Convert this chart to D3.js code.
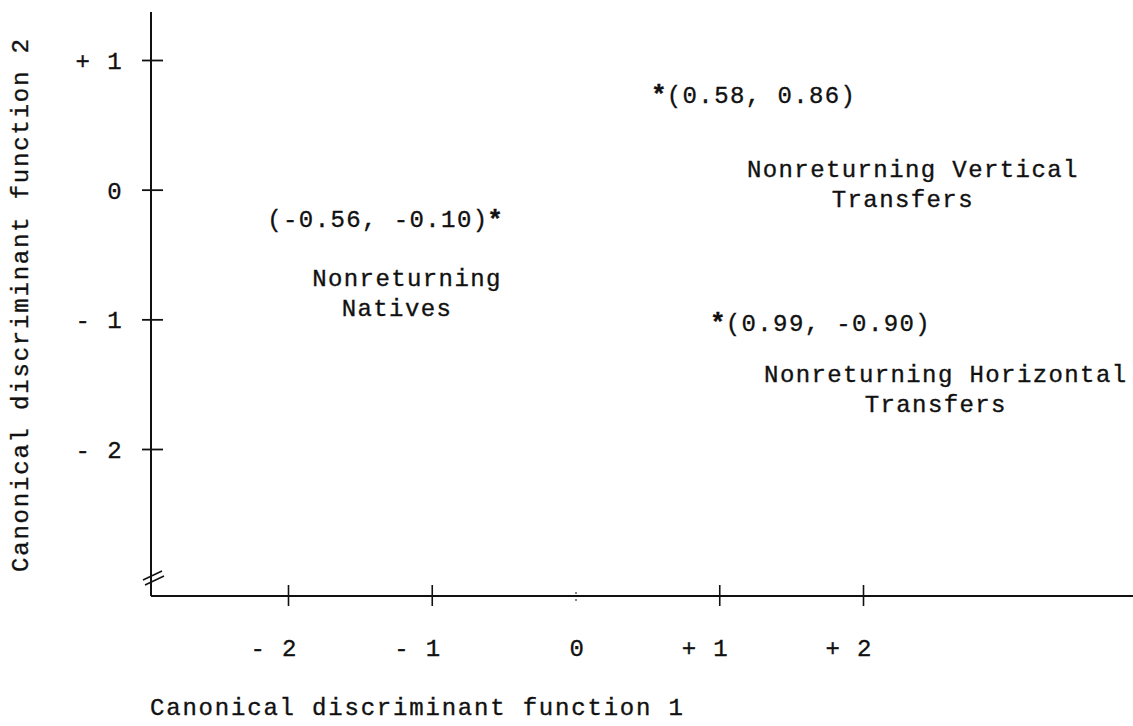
<!DOCTYPE html>
<html>
<head>
<meta charset="utf-8">
<script src="https://cdn.jsdelivr.net/npm/d3@7"></script>
<style>
  html, body { margin: 0; padding: 0; background: #fff; }
  svg { display: block; }
  text { font-family: "Liberation Mono", "DejaVu Sans Mono", monospace; fill: #111; stroke: #111; stroke-width: 0.35px; }
</style>
</head>
<body>
<svg id="chart" width="1133" height="726"></svg>
<script>
// ---------------- data ----------------
const xTicks = [-2, -1, 0, 1, 2];
const xTickLabels = ["- 2", "- 1", "0", "+ 1", "+ 2"];
const yTicks = [1, 0, -1, -2];
const yTickLabels = ["+ 1", "0", "- 1", "- 2"];

const groupLine1 = ["Nonreturning", "Nonreturning Vertical", "Nonreturning Horizontal"];
const groupLine2 = ["Natives", "Transfers", "Transfers"];
const centroidX = [-0.56, 0.58, 0.99];
const centroidY = [-0.10, 0.86, -0.90];

const xTitle = "Canonical discriminant function 1";
const yTitle = "Canonical discriminant function 2";

// ---------------- layout ----------------
const W = 1133, H = 726;
const axisX = 151, axisY = 596;
const fontSize = 24, letterSp = 1.4, charW = fontSize * 0.6 + letterSp;

const svg = d3.select("#chart");
svg.append("rect").attr("width", W).attr("height", H).attr("fill", "#fff");

const x = d3.scaleLinear().domain([-2, 2]).range([288, 863]);
const y = d3.scaleLinear().domain([1, -2]).range([60, 449]);

const ink = "#111";

// axis lines
svg.append("line").attr("x1", axisX).attr("x2", axisX).attr("y1", 12).attr("y2", axisY)
  .attr("stroke", ink).attr("stroke-width", 2);
svg.append("line").attr("x1", axisX).attr("x2", W).attr("y1", axisY).attr("y2", axisY)
  .attr("stroke", ink).attr("stroke-width", 2.2);

// axis break mark on y axis
[[0, 0], [2, 5]].forEach(([ox, oy]) => {
  svg.append("line")
    .attr("x1", axisX - 8 + ox).attr("y1", 580 + oy)
    .attr("x2", axisX + 11 + ox).attr("y2", 571 + oy)
    .attr("stroke", ink).attr("stroke-width", 1.6);
});

// x axis (labels + ticks through d3 axis)
const xAxis = d3.axisBottom(x)
  .tickValues(xTicks)
  .tickFormat((d, i) => xTickLabels[i])
  .tickSize(10)
  .tickPadding(36);
const gx = svg.append("g").attr("transform", `translate(0,${axisY})`).call(xAxis);
gx.select(".domain").remove();
gx.selectAll(".tick line")
  .attr("y1", d => d === 0 ? -4 : -11)
  .attr("y2", d => d === 0 ? 5 : 10)
  .attr("stroke", ink)
  .attr("stroke-width", d => d === 0 ? 1 : 1.6)
  .attr("stroke-dasharray", d => d === 0 ? "2,5" : null);
gx.selectAll(".tick text")
  .attr("font-family", "Liberation Mono, monospace")
  .attr("font-size", fontSize)
  .attr("letter-spacing", letterSp)
  .attr("fill", ink)
  .attr("text-anchor", "end")
  .attr("x", charW / 2 + letterSp)
  .attr("y", 52)
  .attr("dy", "0.35em");

// y axis
const yAxis = d3.axisLeft(y)
  .tickValues(yTicks)
  .tickFormat((d, i) => yTickLabels[i])
  .tickSize(10);
const gy = svg.append("g").attr("transform", `translate(${axisX},0)`).call(yAxis);
gy.select(".domain").remove();
gy.selectAll(".tick line")
  .attr("x1", -9).attr("x2", 12)
  .attr("stroke", ink).attr("stroke-width", 1.8);
gy.selectAll(".tick text")
  .attr("font-family", "Liberation Mono, monospace")
  .attr("font-size", fontSize)
  .attr("letter-spacing", letterSp)
  .attr("fill", ink)
  .attr("text-anchor", "end")
  .attr("x", -28)
  .attr("dy", "0.35em");

// axis titles
svg.append("text")
  .attr("x", 150).attr("y", 707)
  .attr("dy", "0.35em")
  .attr("font-size", fontSize).attr("letter-spacing", 1.8)
  .text(xTitle);
svg.append("text")
  .attr("transform", `translate(20,572) rotate(-90)`)
  .attr("dy", "0.35em")
  .attr("font-size", fontSize).attr("letter-spacing", 1.8)
  .text(yTitle);

// centroids
const pts = centroidX.map((cx, i) => ({ cx, cy: centroidY[i], l1: groupLine1[i], l2: groupLine2[i] }));
const fmt = v => v.toFixed(2);
const markDy = 16;
// label side: the Natives centroid has its coordinates to the left of the asterisk
const labelLeft = [true, false, false];
// group-name placement relative to centroid (annotation layout)
const nameOffset = [[-88, 75], [254, 90], [228, 67]];

const g = svg.append("g");
pts.forEach((p, i) => {
  const px = x(p.cx), py = y(p.cy);
  g.append("text")
    .attr("x", px).attr("y", py + markDy).attr("dy", "0.35em")
    .attr("text-anchor", "middle")
    .attr("font-size", fontSize + 2)
    .attr("font-weight", "bold")
    .text("*");
  const lab = `(${fmt(p.cx)}, ${fmt(p.cy)})`;
  g.append("text")
    .attr("x", labelLeft[i] ? px - charW / 2 + letterSp : px + charW / 2)
    .attr("y", py + markDy).attr("dy", "0.35em")
    .attr("text-anchor", labelLeft[i] ? "end" : "start")
    .attr("font-size", fontSize).attr("letter-spacing", letterSp)
    .text(lab);
  const [ox, oy] = nameOffset[i];
  g.append("text")
    .attr("x", px + ox).attr("y", py + oy).attr("dy", "0.35em")
    .attr("text-anchor", "middle")
    .attr("font-size", fontSize).attr("letter-spacing", letterSp)
    .text(p.l1);
  g.append("text")
    .attr("x", px + ox - 10).attr("y", py + oy + 30).attr("dy", "0.35em")
    .attr("text-anchor", "middle")
    .attr("font-size", fontSize).attr("letter-spacing", letterSp)
    .text(p.l2);
});
</script>
</body>
</html>
